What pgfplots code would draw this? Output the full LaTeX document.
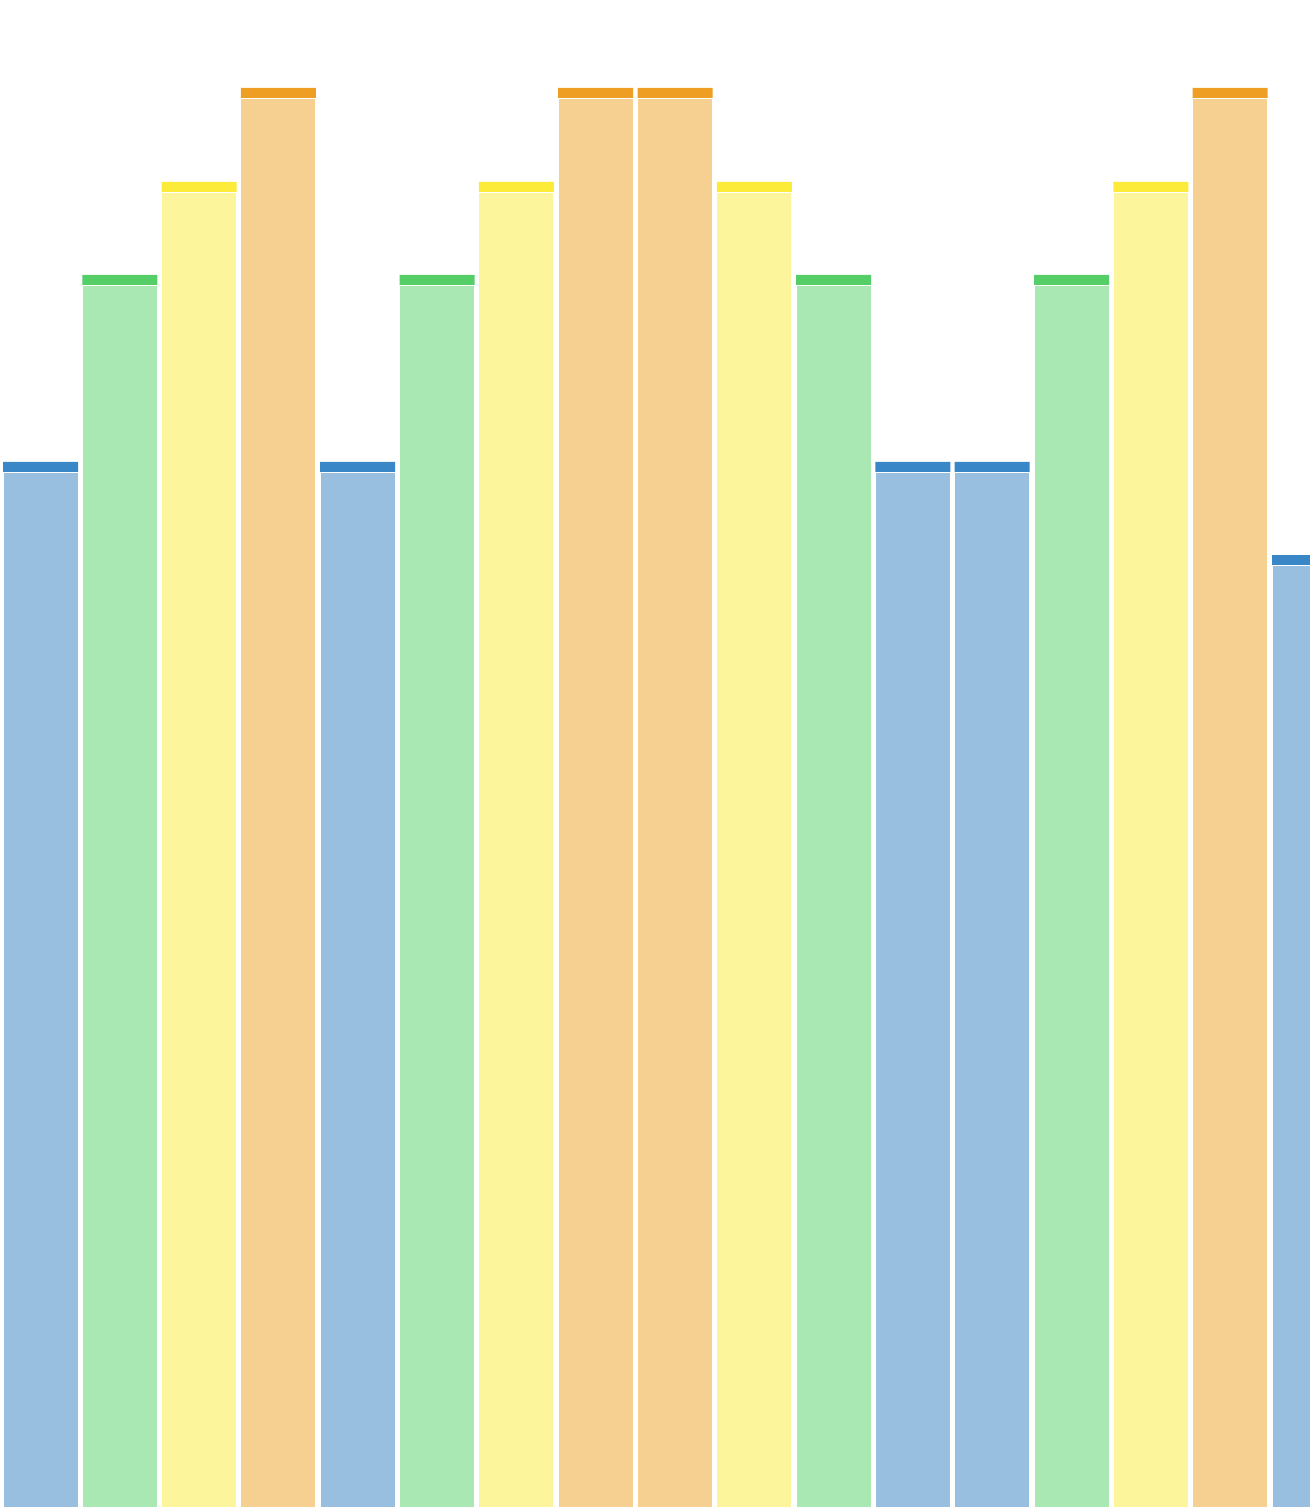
\documentclass[border=0pt]{standalone}
\usepackage{pgfplots}
\pgfplotsset{compat=1.18}
\definecolor{bcap}{HTML}{3A87C8}\definecolor{bfill}{HTML}{99BFE0}
\definecolor{gcap}{HTML}{56CE68}\definecolor{gfill}{HTML}{A9E8B2}
\definecolor{ycap}{HTML}{FDEB3A}\definecolor{yfill}{HTML}{FDF59B}
\definecolor{ocap}{HTML}{EE9E22}\definecolor{ofill}{HTML}{F6D091}
\begin{document}
\begin{tikzpicture}
\begin{axis}[
  name=main,
  scale only axis, width=656pt, height=754pt,
  xmin=0, xmax=1312, ymin=0, ymax=1508,
  hide axis, clip=true,
  ybar, bar width=75, bar shift=0pt,
]
% blue
\addplot[draw=none, fill=bcap] coordinates {(40.5,1046) (357.7,1046) (912.9,1046) (992.2,1046)};
\addplot[draw=white, line width=0.5pt, fill=bfill] coordinates {(40.5,1035.5) (357.7,1035.5) (912.9,1035.5) (992.2,1035.5)};
\addplot[draw=none, fill=bcap, bar width=38] coordinates {(1291,953)};
\addplot[draw=white, line width=0.5pt, fill=bfill, bar width=38] coordinates {(1291,942.5)};
% green
\addplot[draw=none, fill=gcap] coordinates {(119.8,1233) (437.1,1233) (833.6,1233) (1071.5,1233)};
\addplot[draw=white, line width=0.5pt, fill=gfill] coordinates {(119.8,1222.5) (437.1,1222.5) (833.6,1222.5) (1071.5,1222.5)};
% yellow
\addplot[draw=none, fill=ycap] coordinates {(199.1,1326) (516.4,1326) (754.3,1326) (1150.8,1326)};
\addplot[draw=white, line width=0.5pt, fill=yfill] coordinates {(199.1,1315.5) (516.4,1315.5) (754.3,1315.5) (1150.8,1315.5)};
% orange
\addplot[draw=none, fill=ocap] coordinates {(278.4,1420) (595.7,1420) (675.0,1420) (1230.2,1420)};
\addplot[draw=white, line width=0.5pt, fill=ofill] coordinates {(278.4,1409) (595.7,1409) (675.0,1409) (1230.2,1409)};
\end{axis}
\pgfresetboundingbox
\path[use as bounding box] (main.south west) rectangle (main.north east);
\end{tikzpicture}
\end{document}
